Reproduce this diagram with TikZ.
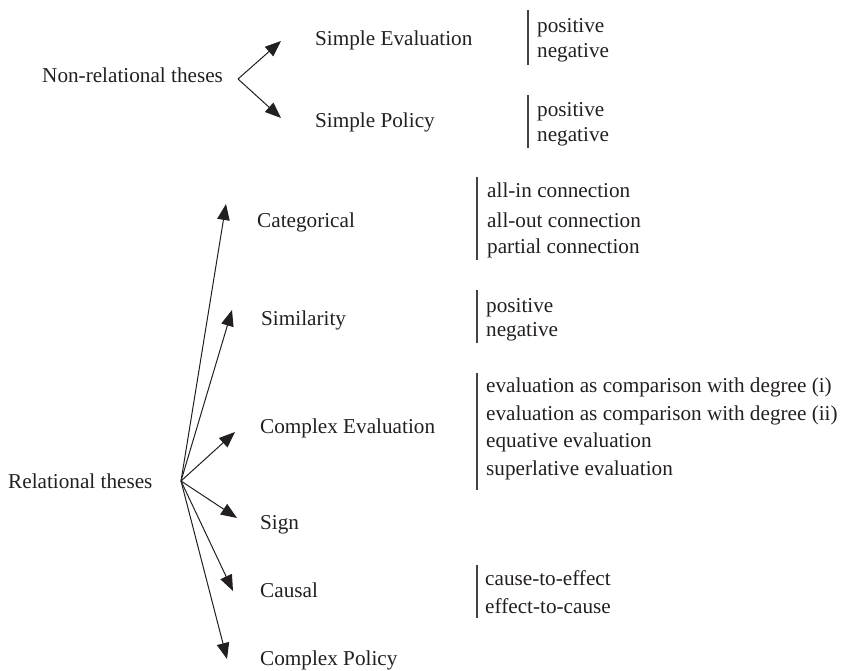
\documentclass[tikz,border=0pt]{standalone}
\usepackage{fontspec}
\setmainfont{Liberation Serif}
\usetikzlibrary{arrows.meta}
\definecolor{ink}{HTML}{231F20}
\begin{document}
\begin{tikzpicture}[x=1pt,y=-1pt,
  lbl/.style={anchor=base west,inner sep=0pt,text=ink,font=\fontsize{21.2}{24}\selectfont},
  arr/.style={draw=ink,line width=1pt,-{Triangle[length=16pt,width=12.5pt]}},
  bar/.style={draw=ink!85,line width=1.3pt}]
\useasboundingbox (0,0) rectangle (843,671);
% Non-relational
\node[lbl] (nr) at (42,83) {Non-relational theses};
\coordinate (nro) at (238,79);
\coordinate (tse) at (281,41);
\coordinate (tsp) at (281,118);
\draw[arr] (nro) -- (tse);
\draw[arr] (nro) -- (tsp);
\node[lbl] (se) at (315,46) {Simple Evaluation};
\node[lbl] (sp) at (315,128) {Simple Policy};
\draw[bar] (528,10) -- (528,65);
\node[lbl] (sep) at (537,33) {positive};
\node[lbl] (sen) at (537,58) {negative};
\draw[bar] (528,95) -- (528,148);
\node[lbl] (spp) at (537,117) {positive};
\node[lbl] (spn) at (537,142) {negative};
% Relational
\node[lbl] (rel) at (8,488) {Relational theses};
\coordinate (ro) at (181,481);
\coordinate (tcat) at (226,204);
\coordinate (tsim) at (232,310);
\coordinate (tce) at (235,432);
\coordinate (tsig) at (237,518);
\coordinate (tcau) at (233,591);
\coordinate (tcp) at (227,659);
\foreach \t in {tcat,tsim,tce,tsig,tcau,tcp} \draw[arr] (ro) -- (\t);
\node[lbl] (cat) at (257,228) {Categorical};
\node[lbl] (sim) at (261,325) {Similarity};
\node[lbl] (ce) at (260,433) {Complex Evaluation};
\node[lbl] (sig) at (260,529) {Sign};
\node[lbl] (cau) at (260,597) {Causal};
\node[lbl] (cp) at (260,665) {Complex Policy};
% Categorical sub
\draw[bar] (477,177) -- (477,260);
\node[lbl] (c1) at (487,198) {all-in connection};
\node[lbl] (c2) at (487,228) {all-out connection};
\node[lbl] (c3) at (487,253) {partial connection};
% Similarity sub
\draw[bar] (477,290) -- (477,343);
\node[lbl] (s1) at (486,312) {positive};
\node[lbl] (s2) at (486,336) {negative};
% Complex evaluation sub
\draw[bar] (477,373) -- (477,490);
\node[lbl] (e1) at (486,392) {evaluation as comparison with degree (i)};
\node[lbl] (e2) at (486,420) {evaluation as comparison with degree (ii)};
\node[lbl] (e3) at (486,447) {equative evaluation};
\node[lbl] (e4) at (486,475) {superlative evaluation};
% Causal sub
\draw[bar] (477,565) -- (477,618);
\node[lbl] (k1) at (485,585) {cause-to-effect};
\node[lbl] (k2) at (485,613) {effect-to-cause};
\end{tikzpicture}
\end{document}
